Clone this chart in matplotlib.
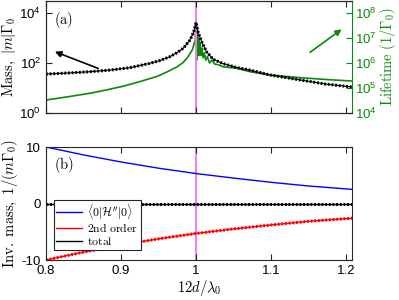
import numpy as np
import matplotlib
matplotlib.use('Agg')
import matplotlib.pyplot as plt
from matplotlib.ticker import LogLocator, NullLocator, NullFormatter

plt.rcParams['font.family'] = ['Liberation Sans', 'DejaVu Sans']
plt.rcParams['mathtext.fontset'] = 'cm'
plt.rcParams['axes.unicode_minus'] = False

# panel (a): mass (left axis) and lifetime (right axis)
x_mass = [0.800, 0.830, 0.859, 0.885, 0.912, 0.939, 0.952, 0.965, 0.975, 0.983,
          0.992, 0.997, 1.000, 1.003, 1.008, 1.014, 1.023, 1.036, 1.054, 1.072,
          1.099, 1.139, 1.172, 1.208]
mass = [36, 40, 45, 52, 65, 98, 126, 178, 263, 390,
        830, 1780, 4200, 1600, 660, 280, 140, 95, 66, 52,
        33, 21, 14.5, 11]

x_life = [0.800, 0.830, 0.859, 0.880, 0.904, 0.925, 0.948, 0.962, 0.975, 0.982,
          0.988, 0.995, 0.999, 1.000,
          1.0008, 1.0015, 1.0025, 1.0035, 1.0045, 1.0055, 1.0065, 1.008, 1.0095,
          1.011, 1.013, 1.015, 1.018, 1.021, 1.025, 1.030, 1.036, 1.054, 1.072,
          1.099, 1.139, 1.172, 1.208]
life = [3.3e4, 4.5e4, 6.2e4, 8.3e4, 1.2e5, 1.8e5, 2.9e5, 4.5e5, 7.1e5, 1.0e6,
        1.55e6, 3.3e6, 8.3e6, 1.0e8,
        1.3e6, 1.6e7, 2.0e6, 1.0e7, 2.0e6, 6.3e6, 2.0e6, 4.0e6, 1.6e6,
        2.5e6, 1.3e6, 1.8e6, 1.0e6, 1.3e6, 9.0e5, 8.5e5, 7.1e5, 6.2e5, 4.5e5,
        3.3e5, 2.6e5, 2.2e5, 1.9e5]

# panel (b): inverse mass
x_inv = [0.80, 0.85, 0.90, 0.95, 1.00, 1.05, 1.10, 1.15, 1.208]
inv_h = [10.0, 8.6, 7.35, 6.25, 5.3, 4.5, 3.75, 3.1, 2.5]
inv_2nd = [-10.0, -8.6, -7.35, -6.25, -5.3, -4.5, -3.8, -3.15, -2.6]
inv_total = [0, 0, 0, 0, 0, 0, 0, 0, 0]

xticks = [0.8, 0.9, 1.0, 1.1, 1.2]
xlabels = ['0.8', '0.9', '1', '1.1', '1.2']

green = '#0a8a0a'
grey = '#262626'
violet = '#ee7ff0'
dots = (0, (0.6, 0.6))
tfs = 9.5
lfs = 10.5

fig = plt.figure(figsize=(3.99, 3.0), dpi=100)
ax = fig.add_axes([0.1153, 0.6233, 0.767, 0.375])
ax2 = ax.twinx()
bx = fig.add_axes([0.1153, 0.1333, 0.767, 0.3767])

# top panel
ax.axvline(1.0, color=violet, lw=1.5, zorder=0)
ax2.plot(x_life, life, color=green, lw=1.2)
ax.plot(x_mass, mass, color='k', lw=0.8)
ax.plot(x_mass, mass, color='k', lw=2.2, ls=dots)
ax.set_zorder(ax2.get_zorder() + 1)
ax.patch.set_visible(False)

ax.set_yscale('log')
ax.set_ylim(1, 10**4.5)
ax.set_yticks([1, 100, 1e4])
ax.yaxis.set_minor_locator(NullLocator())
ax2.set_yscale('log')
ax2.set_ylim(1e4, 10**8.5)
ax2.set_yticks([1e4, 1e5, 1e6, 1e7, 1e8])
ax2.yaxis.set_minor_locator(LogLocator(base=10, subs=np.arange(2, 10)))
ax2.yaxis.set_minor_formatter(NullFormatter())

for a in (ax, bx):
    a.set_xlim(0.8, 1.208)
    a.set_xticks(xticks)
ax.set_xticklabels([])
bx.set_xticklabels(xlabels)

ax.tick_params(axis='x', which='both', direction='in', top=True, length=4,
               color=grey, labelsize=tfs)
ax.tick_params(axis='y', which='both', direction='in', left=True, right=False,
               length=4, color=grey, labelsize=tfs)
ax2.tick_params(axis='y', which='major', direction='in', length=4, color=green,
                labelcolor=green, labelsize=tfs, pad=2)
ax2.tick_params(axis='y', which='minor', direction='in', length=2, color=green)
for s in ('left', 'top', 'bottom'):
    ax.spines[s].set_color(grey)
    ax2.spines[s].set_color(grey)
ax.spines['right'].set_visible(False)
ax2.spines['right'].set_color(green)

ax.set_ylabel(r'$\mathrm{Mass,}\ |m|\Gamma_0$', fontsize=lfs, labelpad=1)
ax2.set_ylabel(r'$\mathrm{Lifetime}\ (1/\Gamma_0)$', fontsize=lfs,
               color=green, labelpad=1)
ax.text(0.026, 0.83, r'$\mathrm{(a)}$', transform=ax.transAxes,
        fontsize=lfs, va='center', ha='left')

ax.annotate('', xy=(0.029, 0.545), xytext=(0.170, 0.397),
            xycoords='axes fraction',
            arrowprops=dict(arrowstyle='-|>', color='k', lw=1.2,
                            mutation_scale=9, shrinkA=0, shrinkB=0))
ax.annotate('', xy=(0.966, 0.744), xytext=(0.863, 0.54),
            xycoords='axes fraction',
            arrowprops=dict(arrowstyle='-|>', color=green, lw=1.2,
                            mutation_scale=9, shrinkA=0, shrinkB=0))

# bottom panel
bx.axvline(1.0, color=violet, lw=1.5, zorder=0)
bx.plot(x_inv, inv_h, color='b', lw=1.0, label=r'$\langle 0|\mathcal{H}^{\prime\prime}|0\rangle$')
bx.plot(x_inv, inv_2nd, color='r', lw=1.0, label=r'$\mathrm{2nd\ order}$')
bx.plot(x_inv, inv_2nd, color='r', lw=2.2, ls=dots)
bx.plot(x_inv, inv_total, color='k', lw=1.0, label=r'$\mathrm{total}$')
bx.plot(x_inv, inv_total, color='k', lw=2.2, ls=dots)
bx.set_ylim(-10, 10)
bx.set_yticks([-10, 0, 10])
bx.tick_params(which='both', direction='in', top=True, right=True, length=4,
               color=grey, labelsize=tfs)
for s in bx.spines.values():
    s.set_color(grey)
bx.set_ylabel(r'$\mathrm{Inv.\ mass,}\ 1/(m\Gamma_0)$', fontsize=lfs, labelpad=1)
bx.set_xlabel(r'$12d/\lambda_0$', fontsize=lfs, labelpad=1)
bx.text(0.026, 0.84, r'$\mathrm{(b)}$', transform=bx.transAxes,
        fontsize=lfs, va='center', ha='left')

leg = bx.legend(loc='lower left', bbox_to_anchor=(0.026, 0.088), borderaxespad=0,
                fontsize=8.5, fancybox=False, edgecolor=grey, framealpha=1,
                handlelength=2.2, handletextpad=0.4, borderpad=0.2,
                labelspacing=0.05)
leg.get_frame().set_linewidth(0.8)

fig.savefig('out.png', dpi=100)
